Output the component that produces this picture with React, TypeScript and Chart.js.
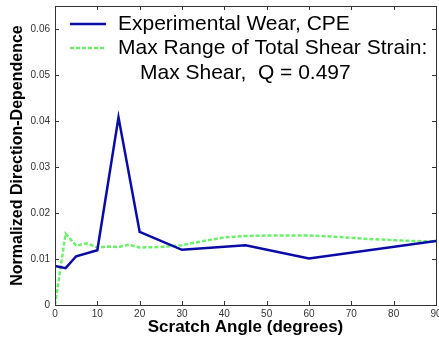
import React, { useEffect, useRef } from "react";
import { Chart, registerables } from "chart.js";

Chart.register(...registerables);

const wearAngles = [0, 2.5, 5, 10, 15, 20, 30, 45, 60, 90];
const wearValues = [0.0085, 0.0080, 0.0106, 0.0119, 0.0408, 0.0159, 0.0120, 0.0130, 0.0101, 0.0139];

const strainAngles = [0, 2.5, 5, 7.5, 10, 12.5, 15, 17.5, 20, 25, 30, 35, 40, 45, 50, 55, 60, 65, 70, 75, 80, 85, 90];
const strainValues = [0.0, 0.0155, 0.0129, 0.0134, 0.0125, 0.0127, 0.0126, 0.0131, 0.0125, 0.0126, 0.0130, 0.0139, 0.0147, 0.0150, 0.0151, 0.0151, 0.0151, 0.0149, 0.0146, 0.0143, 0.0141, 0.0139, 0.0138];

const xTicks = [0, 10, 20, 30, 40, 50, 60, 70, 80, 90];
const yTicks = [0, 0.01, 0.02, 0.03, 0.04, 0.05, 0.06];

const legendLabels = ["Experimental Wear, CPE", "Max Range of Total Shear Strain:", "Max Shear,  Q = 0.497"];

const BLUE = "#0a0aa6";
const GREEN = "#6cf06c";

const boxPlugin = {
  id: "boxPlugin",
  afterDraw(chart: any) {
    const { ctx, chartArea: a, scales } = chart;
    const xs = scales.x;
    const ys = scales.y;
    ctx.save();
    ctx.strokeStyle = "#333";
    ctx.lineWidth = 1;
    ctx.strokeRect(Math.round(a.left) + 0.5, Math.round(a.top) + 0.5, Math.round(a.right - a.left), Math.round(a.bottom - a.top));
    const t = 4;
    ctx.beginPath();
    xTicks.forEach((v) => {
      const px = Math.round(xs.getPixelForValue(v)) + 0.5;
      ctx.moveTo(px, a.bottom);
      ctx.lineTo(px, a.bottom - t);
      ctx.moveTo(px, a.top);
      ctx.lineTo(px, a.top + t);
    });
    yTicks.forEach((v) => {
      const py = Math.round(ys.getPixelForValue(v)) + 0.5;
      ctx.moveTo(a.left, py);
      ctx.lineTo(a.left + t, py);
      ctx.moveTo(a.right, py);
      ctx.lineTo(a.right - t, py);
    });
    ctx.stroke();

    // legend
    ctx.font = "21px 'Liberation Sans', Arial, sans-serif";
    ctx.fillStyle = "#000";
    ctx.textBaseline = "middle";
    const lx0 = a.left + 15;
    const lx1 = a.left + 51;
    const tx = a.left + 63;
    const rows = [a.top + 18, a.top + 42, a.top + 67];
    ctx.lineWidth = 2.5;
    ctx.strokeStyle = BLUE;
    ctx.setLineDash([]);
    ctx.beginPath();
    ctx.moveTo(lx0, rows[0]);
    ctx.lineTo(lx1, rows[0]);
    ctx.stroke();
    ctx.strokeStyle = GREEN;
    ctx.setLineDash([4, 2]);
    ctx.beginPath();
    ctx.moveTo(lx0, rows[1]);
    ctx.lineTo(lx1, rows[1]);
    ctx.stroke();
    ctx.setLineDash([]);
    ctx.fillText(legendLabels[0], tx, rows[0]);
    ctx.fillText(legendLabels[1], tx, rows[1]);
    ctx.fillText(legendLabels[2], tx + 22, rows[2]);
    ctx.restore();
  },
};

export default function App() {
  const ref = useRef<HTMLCanvasElement>(null);
  useEffect(() => {
    if (!ref.current) return;
    const chart = new Chart(ref.current, {
      type: "line",
      data: {
        datasets: [
          {
            label: legendLabels[0],
            data: wearAngles.map((x, i) => ({ x, y: wearValues[i] })),
            borderColor: BLUE,
            borderWidth: 2.5,
            pointRadius: 0,
            tension: 0,
          },
          {
            label: legendLabels[1],
            data: strainAngles.map((x, i) => ({ x, y: strainValues[i] })),
            borderColor: GREEN,
            borderWidth: 2.5,
            borderDash: [4, 2],
            pointRadius: 0,
            tension: 0,
          },
        ],
      },
      options: {
        animation: false,
        responsive: false,
        layout: { padding: { top: 6, right: 3, left: 0, bottom: 0 } },
        plugins: { legend: { display: false }, tooltip: { enabled: false } },
        scales: {
          x: {
            type: "linear",
            min: 0,
            max: 90,
            grid: { display: false, drawTicks: false },
            border: { display: false },
            afterBuildTicks: (s: any) => {
              s.ticks = xTicks.map((v) => ({ value: v }));
            },
            afterFit: (s: any) => {
              s.height = 41;
              s.paddingLeft = 0;
              s.paddingRight = 0;
            },
            ticks: {
              padding: 3,
              color: "#333",
              font: { family: "'Liberation Sans', Arial, sans-serif", size: 10 },
              maxRotation: 0,
              autoSkip: false,
            },
            title: {
              display: true,
              text: "Scratch Angle (degrees)",
              color: "#000",
              font: { family: "'Liberation Sans', Arial, sans-serif", size: 17, weight: "bold" },
              padding: { top: 0, bottom: 8 },
            },
          },
          y: {
            type: "linear",
            min: 0,
            max: 0.065,
            grid: { display: false, drawTicks: false },
            border: { display: false },
            afterBuildTicks: (s: any) => {
              s.ticks = yTicks.map((v) => ({ value: v }));
            },
            afterFit: (s: any) => {
              s.width = 55;
              s.paddingTop = 0;
              s.paddingBottom = 0;
            },
            ticks: {
              padding: 5,
              color: "#333",
              font: { family: "'Liberation Sans', Arial, sans-serif", size: 10 },
              autoSkip: false,
              callback: (v: any) => String(v),
            },
            title: {
              display: true,
              text: "Normalized Direction-Dependence",
              color: "#000",
              font: { family: "'Liberation Sans', Arial, sans-serif", size: 16, weight: "bold" },
              padding: { top: 8, bottom: 0 },
            },
          },
        },
      },
      plugins: [boxPlugin],
    });
    return () => chart.destroy();
  }, []);
  return (
    <div style={{ position: "fixed", left: 0, top: 0, width: 439, height: 346, background: "#fff" }}>
      <canvas ref={ref} width={439} height={346} style={{ display: "block" }} />
    </div>
  );
}
